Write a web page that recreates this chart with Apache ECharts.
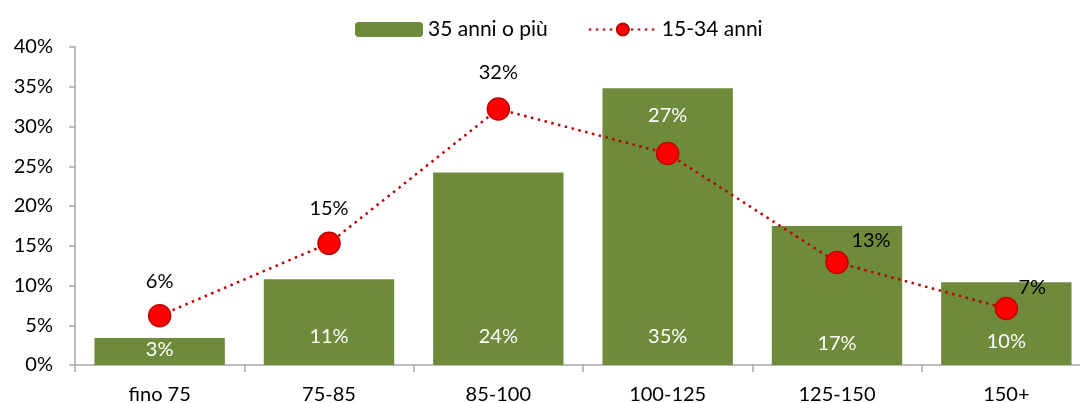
<!DOCTYPE html>
<html><head><meta charset="utf-8">
<script src="https://cdn.jsdelivr.net/npm/echarts@6/dist/echarts.min.js"></script>
<style>html,body{margin:0;padding:0;background:#fff;overflow:hidden}#c{width:1080px;height:403px}</style>
</head><body><div id="c"></div>
<script>
const categories = ['fino 75', '75-85', '85-100', '100-125', '125-150', '150+'];
const older = [3.4, 10.8, 24.2, 34.8, 17.5, 10.4];      // 35 anni o più
const older_labels = ['3%', '11%', '24%', '35%', '17%', '10%'];
const young = [6.2, 15.3, 32.2, 26.6, 12.9, 7.1];       // 15-34 anni
const young_labels = ['6%', '15%', '32%', '27%', '13%', '7%'];
const y_ticks = [0, 5, 10, 15, 20, 25, 30, 35, 40];

const FONT = 'Lato';
const FS = 20;
// label placement tweaks (presentation only)
const barLabelDist = [5, 18, 18, 18, 11, 13];
const lineLabelOffset = [[0,-34],[0,-35],[0,-36],[0,-38],[34,-22],[26,-21]];
const lineLabelColor = ['#000','#000','#000','#fff','#000','#000'];

const chart = echarts.init(document.getElementById('c'));
chart.setOption({
  animation: false,
  textStyle: {fontFamily: FONT},
  legend: {
    top: 14, left: 350, itemGap: 40, itemWidth: 68, itemHeight: 15,
    textStyle: {fontSize: 21, color: '#000', fontFamily: FONT},
    data: ['35 anni o più', '15-34 anni']
  },
  grid: {left: 75, width: 1016, top: 47, bottom: 38, outerBoundsMode: 'none', containLabel: false},
  xAxis: {
    type: 'category', data: categories,
    axisLine: {lineStyle: {color: '#a6a6a6', width: 1.5}},
    axisTick: {show: true, length: 7, lineStyle: {color: '#a6a6a6', width: 1.5}},
    axisLabel: {fontSize: FS, color: '#000', margin: 20, fontFamily: FONT}
  },
  yAxis: {
    type: 'value', min: y_ticks[0], max: y_ticks[y_ticks.length-1], interval: 5,
    axisLine: {show: true, lineStyle: {color: '#a6a6a6', width: 1.5}},
    axisTick: {show: true, length: 6, lineStyle: {color: '#a6a6a6', width: 1.5}},
    splitLine: {show: false},
    axisLabel: {fontSize: FS, color: '#000', margin: 22, fontFamily: FONT, formatter: v => v + '%'}
  },
  series: [
    {
      name: '35 anni o più', type: 'bar', barCategoryGap: '23%',
      itemStyle: {color: '#6E8A3B'},
      data: older.map((v, i) => ({
        value: v,
        label: {show: true, position: 'insideBottom', distance: barLabelDist[i],
          formatter: older_labels[i], color: '#fff', fontSize: FS, fontFamily: FONT}
      })),
      z: 1
    },
    {
      name: '15-34 anni', type: 'line', symbol: 'circle', symbolSize: 22,
      lineStyle: {color: '#C00000', width: 2.5, type: [2.5, 4.5]},
      itemStyle: {color: '#FF0000', borderColor: '#C00000', borderWidth: 1.5},
      data: young.map((v, i) => ({
        value: v,
        label: {show: true, position: 'inside', offset: lineLabelOffset[i],
          formatter: young_labels[i], color: lineLabelColor[i], fontSize: FS, fontFamily: FONT}
      })),
      z: 3
    }
  ]
});
</script></body></html>
